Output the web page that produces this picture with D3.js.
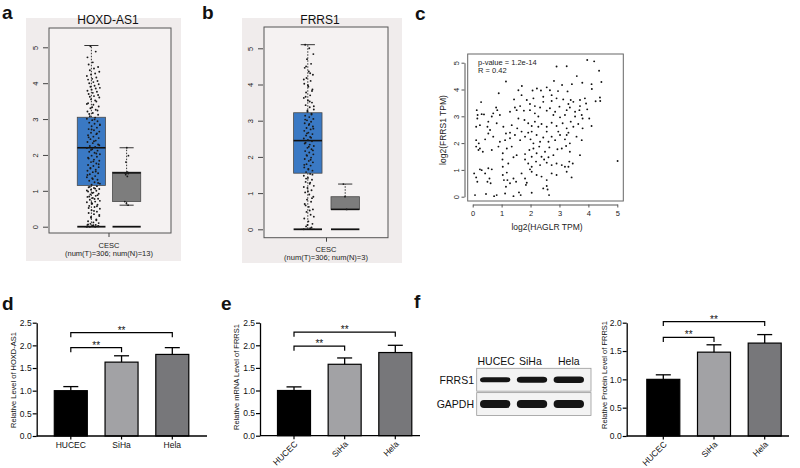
<!DOCTYPE html>
<html><head><meta charset="utf-8">
<script src="https://cdn.jsdelivr.net/npm/d3@7"></script>
<style>body{margin:0;background:#fff}svg{display:block;font-family:"Liberation Sans",Arial,sans-serif}</style>
</head><body>
<svg id="fig" width="800" height="468"></svg>
<script>
// ---------------- DATA ----------------
const groups = ["Tumor","Normal"];
// Panel a (HOXD-AS1) box statistics [min, q1, median, q3, max]
const aTumorStats = [0, 1.15, 2.2, 3.05, 5.05];
const aNormalStats = [0.6, 0.7, 1.5, 1.52, 2.2];
const aTumorPts = [0,0,0,0.02,0.03,0.05,0.05,0.08,0.1,0.12,0.15,0.2,0.25,0.3,0.35,0.38,0.42,0.46,0.5,0.55,0.58,0.61,0.64,0.68,0.7,0.75,0.78,0.8,0.83,0.86,0.9,0.92,0.95,0.98,1.0,1.03,1.05,1.08,1.1,1.13,
 1.17,1.2,1.24,1.28,1.31,1.35,1.38,1.41,1.46,1.49,1.52,1.56,1.59,1.62,1.66,1.69,1.72,1.76,1.8,1.84,1.87,1.9,1.95,1.98,2.02,2.06,2.09,2.12,2.16,2.19,
 2.22,2.25,2.29,2.33,2.36,2.4,2.44,2.47,2.51,2.55,2.58,2.62,2.65,2.69,2.72,2.76,2.8,2.83,2.87,2.9,2.94,2.97,3.01,3.04,
 3.08,3.12,3.17,3.21,3.26,3.3,3.35,3.4,3.44,3.49,3.55,3.6,3.64,3.7,3.76,3.82,3.87,3.93,4.0,4.06,4.12,4.2,4.27,4.36,4.45,4.58,4.72,4.88,5.03,
 0.01,0.04,0.06,0.18,0.27,0.33,0.44,0.52,0.57,0.66,0.72,0.77,0.84,0.88,0.94,1.01,1.06,1.11,1.22,1.33,1.44,1.54,1.64,1.74,1.82,1.92,2.04,2.14,
 2.27,2.38,2.49,2.6,2.71,2.85,2.99,3.14,3.24,3.33,3.42,3.52,3.62,3.67,3.73,3.79,3.85,3.9,3.97,4.03,4.1,4.16,4.24,4.32,4.41,4.52];
const aNormalPts = [0.6,0.65,0.7,1.4,1.45,1.48,1.5,1.5,1.52,1.8,1.98,2.2];
// Panel b (FRRS1)
const bTumorStats = [0, 1.55, 2.45, 3.22, 5.1];
const bNormalStats = [0.55, 0.55, 0.55, 0.9, 1.25];
const bTumorPts = [0,0.03,0.08,0.15,0.22,0.3,0.4,0.48,0.55,0.62,0.7,0.76,0.82,0.9,0.96,1.02,1.08,1.14,1.2,1.26,1.31,1.37,1.42,1.48,1.53,
 1.58,1.62,1.67,1.71,1.76,1.8,1.85,1.89,1.94,1.98,2.03,2.07,2.12,2.16,2.21,2.25,2.3,2.34,2.39,2.43,
 2.47,2.51,2.55,2.59,2.63,2.67,2.72,2.76,2.8,2.84,2.88,2.93,2.97,3.01,3.05,3.1,3.14,3.19,
 3.25,3.31,3.37,3.43,3.5,3.56,3.63,3.7,3.78,3.86,3.94,4.02,4.1,4.18,4.27,4.36,4.46,4.57,4.7,4.84,5.0,5.1,
 0.05,0.12,0.35,0.52,0.66,0.86,1.05,1.17,1.29,1.4,1.51,1.65,1.78,1.92,2.05,2.18,2.28,2.37,2.53,2.65,2.78,2.91,3.03,3.17,3.28,3.4,3.53,3.66,3.82,3.98,4.14,4.31,4.5];
const bNormalPts = [0.55,0.9,1.25];
// Panel c scatter: [log2(HAGLR TPM), log2(FRRS1 TPM)]
const scatterPts = [
 [3.96,5.1],[4.2,5.05],[4.37,4.7],[3.25,4.87],[2.9,4.86],[3.6,4.5],[1.15,4.3],
 [4.45,4.28],[3.79,4.25],[4.11,4.2],[4.12,4.02],[2.81,4.32],[3.09,4.17],[3.43,4.2],[2.56,4.08],[2.22,4.04],[1.7,4.13],[2.07,3.96],[2.36,3.96],[2.67,3.97],[2.95,3.94],[0.9,3.86],[1.58,3.97],[3.28,3.93],
 [4.4,3.7],[4.41,3.57],[4.25,3.56],[0.29,3.53],[1.43,3.63],[1.87,3.61],[2.1,3.67],[2.44,3.73],[2.73,3.79],[2.9,3.67],[3.13,3.63],[3.39,3.61],[3.48,3.54],[3.71,3.61],[3.88,3.67],[3.92,3.48],[2.44,3.54],[2.73,3.57],[1.69,3.79],[1.98,3.46],[3.31,3.46],[3.71,3.38],[2.15,3.38],
 [0.14,3.23],[0.17,3.05],[0.31,3.08],[0.39,3.07],[0.16,2.92],[0.81,3.33],[0.85,3.23],[0.71,3.11],[0.66,2.99],[0.94,3.05],[1.29,3.17],[1.46,3.33],[1.64,3.38],[1.77,3.21],[1.58,2.92],[1.52,3.23],[1.98,3.23],[2.15,3.11],[2.33,3.33],[2.27,2.99],[2.56,3.21],[2.67,3.3],[2.85,3.17],[3.0,3.36],[3.25,3.23],[3.36,3.33],[3.54,3.17],[3.69,3.23],[3.77,3.05],[3.96,3.26],[4.03,2.92],[4.11,2.64],[3.8,2.92],[3.54,2.99],[3.19,3.05],[3.02,2.96],[2.79,3.05],
 [0.12,2.61],[0.25,2.67],[0.54,2.8],[0.51,2.61],[0.6,2.49],[0.54,2.36],[0.83,2.74],[1.06,2.61],[1.35,2.67],[1.54,2.55],[1.79,2.86],[1.92,2.74],[2.04,2.64],[2.15,2.8],[2.27,2.61],[2.38,2.71],[2.56,2.61],[2.73,2.76],[2.9,2.64],[3.11,2.74],[3.25,2.55],[3.39,2.8],[3.48,2.61],[3.65,2.71],[3.8,2.55],[2.04,2.43],[1.69,2.43],[1.29,2.39],[2.56,2.43],[2.96,2.43],[3.31,2.39],
 [0.12,2.11],[0.21,1.99],[0.43,2.14],[0.71,2.24],[0.94,2.05],[1.12,2.11],[1.29,2.18],[1.46,2.3],[1.64,2.11],[1.81,2.24],[2.0,2.14],[2.1,1.99],[2.21,2.3],[2.33,2.05],[2.44,2.21],[2.62,2.05],[2.73,2.24],[2.85,2.11],[3.02,2.3],[3.19,2.14],[3.36,1.99],[3.59,2.24],[3.77,2.11],[1.92,2.39],[3.25,2.3],[1.15,2.36],
 [0.12,1.87],[0.2,1.74],[0.25,1.8],[0.35,1.68],[0.66,1.74],[0.89,1.87],[1.04,1.62],[1.18,1.8],[1.35,1.87],[1.52,1.55],[1.81,1.59],[1.96,1.74],[2.1,1.8],[2.21,1.62],[2.3,1.87],[2.5,1.68],[2.65,1.84],[2.79,1.55],[2.93,1.77],[3.08,1.8],[3.23,1.89],[3.71,1.55],[3.36,1.68],[2.04,1.49],[2.38,1.49],[2.62,1.47],
 [1.03,1.39],[1.23,1.24],[1.41,1.47],[1.81,1.39],[1.92,1.24],[2.04,1.12],[2.19,1.31],[2.33,1.18],[2.47,1.39],[2.56,1.27],[2.73,1.18],[2.9,1.24],[3.08,1.18],[3.19,1.12],[3.34,1.31],[3.46,1.24],[3.31,1.12],[5.01,1.33],[1.04,1.12],[0.66,1.02],[0.54,1.06],[0.25,1.02],[0.31,0.99],[1.98,1.02],
 [0.05,0.87],[0.12,0.72],[0.16,0.56],[0.43,0.87],[0.51,0.56],[0.58,0.68],[0.62,0.5],[1.04,0.81],[1.08,0.62],[1.18,0.9],[1.29,0.5],[1.41,0.68],[1.5,0.56],[1.69,0.87],[1.81,0.68],[1.87,0.52],[2.04,0.93],[2.21,0.81],[2.38,0.75],[2.56,0.62],[2.73,0.87],[2.9,0.81],[3.42,0.72],[3.25,0.93],[1.2,0.62],
 [0.08,0.06],[0.46,0.1],[0.74,0.02],[0.83,0.06],[1.12,0.12],[1.41,0.02],[1.6,0.16],[1.66,0.06],[2.44,0.31],[2.56,0.4],[2.59,0.27],[2.64,0.06],[1.84,0.44],[2.04,0.15],[1.15,0.37]
];
const scatterTicks = [0,1,2,3,4,5];
// Bar panels d, e, f
const cells = ["HUCEC","SiHa","Hela"];
const dMean = [1.0, 1.63, 1.80], dErr = [0.09, 0.14, 0.15];
const eMean = [1.0, 1.58, 1.84], eErr = [0.08, 0.14, 0.16];
const fMean = [1.0, 1.48, 1.64], fErr = [0.08, 0.13, 0.15];
const dSig = [["HUCEC","SiHa",1.95,"**"],["HUCEC","Hela",2.28,"**"]];
const eSig = [["HUCEC","SiHa",1.98,"**"],["HUCEC","Hela",2.29,"**"]];
const fSig = [["HUCEC","SiHa",1.74,"**"],["HUCEC","Hela",2.02,"**"]];
const ticks25 = [0,0.5,1,1.5,2,2.5], ticks20 = [0,0.5,1,1.5,2];
// Western blot bands (relative band thickness)
const blotRows = ["FRRS1","GAPDH"];
const blotFRRS1 = [0.8, 0.9, 1.0];
const blotGAPDH = [1.0, 1.0, 1.0];

// ---------------- DRAWING ----------------
const svg = d3.select("#fig");
const barColors = d3.scaleOrdinal().domain(cells).range(["#000000","#a2a2a5","#77777a"]);

function letter(t,x,y){ svg.append("text").attr("x",x).attr("y",y).attr("font-size",19).attr("font-weight","bold").attr("fill","#111").text(t); }

// jitter offset helper (position only)
function jit(i){ return ((i*37)%23)/22 - 0.5; }

function boxPanel(cfg){
  const g = svg.append("g");
  g.append("rect").attr("x",cfg.bg[0]).attr("y",cfg.bg[1]).attr("width",cfg.bg[2]).attr("height",cfg.bg[3]).attr("fill","#f0ecec");
  const y = d3.scaleLinear().domain([0,5]).range([cfg.y0,cfg.y5]);
  const x = d3.scaleBand().domain(groups).range(cfg.xr).paddingInner(cfg.pi).paddingOuter(cfg.po);
  const fr = cfg.frame;
  g.append("rect").attr("x",fr[0]).attr("y",fr[1]).attr("width",fr[2]-fr[0]).attr("height",fr[3]-fr[1]).attr("fill","#f5f2f2").attr("stroke","#555").attr("stroke-width",1);
  const ax = g.append("g").attr("transform",`translate(${fr[0]-1},0)`)
    .call(d3.axisLeft(y).ticks(5).tickFormat(d3.format("d")).tickSize(5).tickSizeOuter(0));
  ax.select(".domain").remove();
  ax.selectAll(".tick line").attr("stroke","#444");
  ax.selectAll(".tick text").attr("x",0).attr("dy",0).attr("text-anchor","middle")
    .attr("transform","translate(-10,0) rotate(-90)").attr("font-size",7.5).attr("fill","#222")
    .attr("font-family","Liberation Sans, Arial, sans-serif");
  const xc = (x("Tumor")+x("Normal")+x.bandwidth())/2;
  g.append("line").attr("x1",xc).attr("x2",xc).attr("y1",fr[3]).attr("y2",fr[3]+4).attr("stroke","#444");
  const stats = [cfg.tStats, cfg.nStats], fills = ["#3a79c4","#7d7d7d"];
  groups.forEach((gr,k)=>{
    const s = stats[k], x0 = x(gr), bw = x.bandwidth(), cx = x0+bw/2;
    g.append("line").attr("x1",cx).attr("x2",cx).attr("y1",y(s[3])).attr("y2",y(s[4])).attr("stroke","#333").attr("stroke-dasharray","1.5,1.5");
    g.append("line").attr("x1",cx).attr("x2",cx).attr("y1",y(s[1])).attr("y2",y(s[0])).attr("stroke","#333").attr("stroke-dasharray","1.5,1.5");
    g.append("line").attr("x1",cx-bw/4).attr("x2",cx+bw/4).attr("y1",y(s[4])).attr("y2",y(s[4])).attr("stroke","#333");
    g.append("line").attr("x1",cx-bw/4).attr("x2",cx+bw/4).attr("y1",y(s[0])).attr("y2",y(s[0])).attr("stroke","#333");
    g.append("rect").attr("x",x0).attr("y",y(s[3])).attr("width",bw).attr("height",y(s[1])-y(s[3]))
      .attr("fill",fills[k]).attr("stroke","#4a4a4a").attr("stroke-width",0.8);
    g.append("line").attr("x1",x0).attr("x2",x0+bw).attr("y1",y(s[2])).attr("y2",y(s[2])).attr("stroke","#111").attr("stroke-width",1.6);
    g.append("line").attr("x1",x0).attr("x2",x0+bw).attr("y1",y(0)).attr("y2",y(0)).attr("stroke","#111").attr("stroke-width",1.8);
  });
  const tcx = x("Tumor")+x.bandwidth()/2, ncx = x("Normal")+x.bandwidth()/2;
  g.selectAll(".tp").data(cfg.tPts).join("circle").attr("cx",(d,i)=>tcx+cfg.jo+jit(i)*cfg.jw).attr("cy",d=>y(d)).attr("r",0.95).attr("fill","#1a1a1a");
  g.selectAll(".np").data(cfg.nPts).join("circle").attr("cx",(d,i)=>ncx+jit(i+3)*4).attr("cy",d=>y(d)).attr("r",0.9).attr("fill","#1a1a1a");
  g.append("text").attr("x",cfg.title[1]).attr("y",cfg.title[2]).attr("text-anchor","middle").attr("font-size",12).attr("fill","#111").text(cfg.title[0]);
  g.append("text").attr("x",cfg.cap[0]).attr("y",cfg.cap[1]).attr("text-anchor","middle").attr("font-size",7.5).attr("fill","#222").text("CESC");
  g.append("text").attr("x",cfg.cap[0]).attr("y",cfg.cap[1]+8.3).attr("text-anchor","middle").attr("font-size",7.5).attr("fill","#222").text(cfg.cap[2]);
}

boxPanel({bg:[26,18,155,243], frame:[49,28,171,233], y0:226.7, y5:47.3, xr:[72,146], pi:0.2, po:0.15,
  tStats:aTumorStats, nStats:aNormalStats, tPts:aTumorPts, nPts:aNormalPts, jw:13, jo:2,
  title:["HOXD-AS1",108,24], cap:[109,248,"(num(T)=306; num(N)=13)"]});
boxPanel({bg:[242,18,160,245], frame:[264,27,388,237.7], y0:229.3, y5:48.3, xr:[288,365], pi:0.24, po:0.15,
  tStats:bTumorStats, nStats:bNormalStats, tPts:bTumorPts, nPts:bNormalPts, jw:10, jo:1,
  title:["FRRS1",320,24], cap:[326,251.5,"(num(T)=306; num(N)=3)"]});

letter("a",2,19); letter("b",202,19); letter("c",415,20);

// ---- scatter c ----
(function(){
  const g = svg.append("g");
  const x = d3.scaleLinear().domain([0,5]).range([472.7,617.3]);
  const y = d3.scaleLinear().domain([0,5]).range([196.7,62.7]);
  g.append("rect").attr("x",467.7).attr("y",54).attr("width",155.6).attr("height",147).attr("fill","#fff").attr("stroke","#666");
  const bx = g.append("g").attr("transform","translate(0,204.5)").call(d3.axisBottom(x).tickValues(scatterTicks).tickFormat(d3.format("d")).tickSize(3).tickSizeOuter(0));
  bx.selectAll("text").attr("font-size",7.5).attr("fill","#222").attr("y",6).attr("font-family","Liberation Sans, Arial, sans-serif");
  bx.select(".domain").attr("stroke","#555"); bx.selectAll(".tick line").attr("stroke","#555");
  const lx = g.append("g").attr("transform","translate(464.5,0)").call(d3.axisLeft(y).tickValues(scatterTicks).tickFormat(d3.format("d")).tickSize(3).tickSizeOuter(0));
  lx.select(".domain").attr("stroke","#555"); lx.selectAll(".tick line").attr("stroke","#555");
  lx.selectAll(".tick text").attr("x",0).attr("dy",0).attr("text-anchor","middle").attr("transform","translate(-6,0) rotate(-90)")
    .attr("font-size",7.5).attr("fill","#222").attr("font-family","Liberation Sans, Arial, sans-serif");
  g.selectAll(".sp").data(scatterPts).join("circle").attr("cx",d=>x(d[0])).attr("cy",d=>y(d[1])).attr("r",0.95).attr("fill","#111");
  g.append("text").attr("x",478).attr("y",65).attr("font-size",7.5).attr("fill","#222").text("p-value = 1.2e-14");
  g.append("text").attr("x",478).attr("y",73).attr("font-size",7.5).attr("fill","#222").text("R = 0.42");
  g.append("text").attr("x",547).attr("y",230).attr("text-anchor","middle").attr("font-size",8.5).attr("fill","#222").text("log2(HAGLR TPM)");
  g.append("text").attr("transform","translate(446,130) rotate(-90)").attr("text-anchor","middle").attr("font-size",8.5).attr("fill","#222").text("log2(FRRS1 TPM)");
})();

// ---- bar panels ----
function barPanel(cfg){
  const g = svg.append("g");
  const y = d3.scaleLinear().domain([0,cfg.yMax]).range([cfg.y0,cfg.yTop]);
  const x = d3.scalePoint().domain(cells).range([cfg.c0,cfg.c2]);
  const bw = 33;
  g.selectAll(".bar").data(cells).join("rect")
    .attr("x",c=>x(c)-bw/2).attr("y",(c,i)=>y(cfg.mean[i])).attr("width",bw).attr("height",(c,i)=>cfg.y0-y(cfg.mean[i]))
    .attr("fill",c=>barColors(c)).attr("stroke","#000").attr("stroke-width",1.2);
  cells.forEach((c,i)=>{
    const top = y(cfg.mean[i]+cfg.err[i]);
    g.append("line").attr("x1",x(c)).attr("x2",x(c)).attr("y1",y(cfg.mean[i])).attr("y2",top).attr("stroke","#000").attr("stroke-width",1.3);
    g.append("line").attr("x1",x(c)-7.5).attr("x2",x(c)+7.5).attr("y1",top).attr("y2",top).attr("stroke","#000").attr("stroke-width",1.3);
  });
  const ya = g.append("g").attr("transform",`translate(${cfg.ax},0)`)
    .call(d3.axisLeft(y).tickValues(cfg.ticks).tickFormat(d3.format(".1f")).tickSize(4).tickSizeOuter(0));
  ya.select(".domain").attr("stroke-width",1.3); ya.selectAll(".tick line").attr("stroke-width",1.2);
  ya.selectAll("text").attr("font-size",8.5).attr("fill","#111").attr("x",-5).attr("font-family","Liberation Sans, Arial, sans-serif");
  g.append("line").attr("x1",cfg.ax).attr("x2",cfg.xEnd).attr("y1",cfg.y0).attr("y2",cfg.y0).attr("stroke","#000").attr("stroke-width",1.3);
  cells.forEach(c=>{
    g.append("line").attr("x1",x(c)).attr("x2",x(c)).attr("y1",cfg.y0).attr("y2",cfg.y0+3.5).attr("stroke","#000").attr("stroke-width",1.2);
    if(cfg.rot){
      g.append("text").attr("text-anchor","end").attr("font-size",8.5).attr("fill","#111")
        .attr("transform",`translate(${x(c)+4},${cfg.y0+9}) rotate(-45)`).text(c);
    } else {
      g.append("text").attr("x",x(c)).attr("y",cfg.y0+12).attr("text-anchor","middle").attr("font-size",8.5).attr("fill","#111").text(c);
    }
  });
  g.append("text").attr("transform",`translate(${cfg.tx},${cfg.ty}) rotate(-90)`).attr("text-anchor","middle")
    .attr("font-size",7.5).attr("fill","#111").text(cfg.title);
  cfg.sig.forEach(s=>{
    const x1 = x(s[0]), x2 = x(s[1]), yb = y(s[2]);
    g.append("path").attr("d",`M${x1},${yb+4.5}V${yb}H${x2}V${yb+4.5}`).attr("fill","none").attr("stroke","#000").attr("stroke-width",1.2);
    g.append("text").attr("x",(x1+x2)/2).attr("y",yb+1).attr("text-anchor","middle").attr("font-size",10).attr("fill","#111").text(s[3]);
  });
}

barPanel({mean:dMean, err:dErr, sig:dSig, yMax:2.5, ticks:ticks25, y0:436, yTop:322.7, ax:36.7, xEnd:207,
  c0:70.8, c2:172.3, rot:false, title:"Relative Level of HOXD-AS1", tx:16, ty:380});
barPanel({mean:eMean, err:eErr, sig:eSig, yMax:2.5, ticks:ticks25, y0:435.7, yTop:322.7, ax:260, xEnd:420,
  c0:294, c2:395.3, rot:true, title:"Relative mRNA Level of FRRS1", tx:239, ty:377});
barPanel({mean:fMean, err:fErr, sig:fSig, yMax:2.0, ticks:ticks20, y0:436, yTop:322.7, ax:626.7, xEnd:789,
  c0:663.3, c2:764.7, rot:true, title:"Relative Protein Level of FRRS1", tx:607, ty:375});

letter("d",2,310); letter("e",221,310); letter("f",414,308);

// ---- western blot ----
(function(){
  const g = svg.append("g");
  const x = d3.scaleBand().domain(cells).range([479,585]).paddingInner(0.12);
  const rowY = d3.scaleBand().domain(blotRows).range([368.3,415.5]).paddingInner(0.06);
  const labX = [477.5, 519, 558];
  cells.forEach((c,i)=>g.append("text").attr("x",labX[i]).attr("y",365).attr("font-size",10.5).attr("fill","#111").text(c));
  blotRows.forEach((r,k)=>{
    g.append("rect").attr("x",476.7).attr("y",rowY(r)).attr("width",114.3).attr("height",rowY.bandwidth()).attr("fill","#f3f3f3").attr("stroke","#999").attr("stroke-width",0.8);
    g.append("text").attr("x",474).attr("y",rowY(r)+rowY.bandwidth()/2+3.8).attr("text-anchor","end").attr("font-size",10.5).attr("fill","#111").text(r);
    const vals = k===0 ? blotFRRS1 : blotGAPDH;
    cells.forEach((c,i)=>{
      const h = (k===0?6.5:8)*vals[i];
      g.append("rect").attr("x",x(c)+1).attr("y",rowY(r)+rowY.bandwidth()/2-h/2).attr("width",x.bandwidth()-2).attr("height",h)
        .attr("rx",4).attr("ry",h/2).attr("fill","#151515");
    });
  });
})();
</script>
</body></html>
